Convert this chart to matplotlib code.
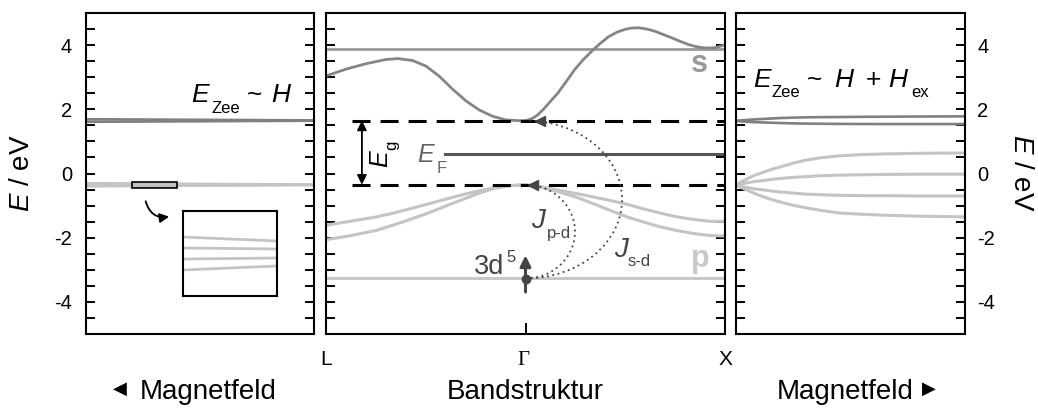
import matplotlib
matplotlib.use("Agg")
import matplotlib.pyplot as plt
from matplotlib.patches import Arc, Rectangle, FancyArrowPatch
from matplotlib.ticker import MultipleLocator

plt.rcParams['font.family'] = ['Liberation Sans', 'DejaVu Sans']
plt.rcParams['mathtext.fontset'] = 'custom'
plt.rcParams['mathtext.rm'] = 'Liberation Sans'
plt.rcParams['mathtext.it'] = 'Liberation Sans:italic'
plt.rcParams['axes.unicode_minus'] = False
plt.rcParams['lines.scale_dashes'] = False

# ---------------- DATA ----------------
y_ticks = [-4, -2, 0, 2, 4]
y_tick_labels = ['-4', '-2', '0', '2', '4']
k_labels = ['L', 'Γ', 'X']
k_pos = [0.0, 0.5, 1.0]

# Band structure (middle panel), x: L=0, Gamma=0.5, X=1
s_x = [0.0, 0.05, 0.10, 0.15, 0.18, 0.217, 0.25, 0.283, 0.317, 0.351, 0.384, 0.418,
       0.451, 0.484, 0.50, 0.515, 0.53, 0.545, 0.562, 0.582, 0.603, 0.624, 0.645, 0.666,
       0.687, 0.708, 0.729, 0.749, 0.766, 0.783, 0.804, 0.825, 0.845, 0.866, 0.887,
       0.908, 0.925, 0.942, 0.958, 0.975, 0.99, 1.0]
s_E = [3.04, 3.25, 3.42, 3.55, 3.58, 3.52, 3.35, 3.04, 2.63, 2.26, 1.98, 1.78,
       1.67, 1.645, 1.65, 1.70, 1.82, 2.0, 2.24, 2.52, 2.88, 3.25, 3.55, 3.81,
       4.05, 4.26, 4.40, 4.49, 4.53, 4.54, 4.50, 4.43, 4.33, 4.23, 4.12,
       4.02, 3.96, 3.92, 3.91, 3.92, 3.97, 4.02]
s_flat = 3.87
Eg_levels = [1.65, -0.35]
E_F = 0.62
p_flat = -3.27
p_up_x = [0.0, 0.06, 0.127, 0.17, 0.21, 0.27, 0.336, 0.38, 0.419, 0.455, 0.495, 0.53,
          0.586, 0.65, 0.712, 0.755, 0.795, 0.84, 0.879, 0.92, 0.962, 1.0]
p_up_E = [-1.61, -1.49, -1.35, -1.23, -1.10, -0.90, -0.68, -0.55, -0.45, -0.38, -0.35, -0.39,
          -0.53, -0.68, -0.84, -0.96, -1.10, -1.24, -1.35, -1.43, -1.49, -1.49]
p_lo_x = [0.0, 0.06, 0.127, 0.19, 0.252, 0.295, 0.336, 0.38, 0.419, 0.455, 0.495, 0.53,
          0.586, 0.63, 0.670, 0.71, 0.754, 0.795, 0.837, 0.88, 0.921, 0.96, 1.0]
p_lo_E = [-2.06, -1.94, -1.77, -1.52, -1.25, -1.04, -0.84, -0.63, -0.47, -0.39, -0.35, -0.40,
          -0.58, -0.75, -0.94, -1.14, -1.35, -1.51, -1.66, -1.78, -1.87, -1.93, -1.95]

# Left panel (Magnetfeld, Zeeman splitting)
lz_x = [0.0, 1.0]
lz_dark = [[1.69, 1.655], [1.61, 1.645]]
lz_light = [[-0.30, -0.345], [-0.335, -0.35], [-0.365, -0.355], [-0.40, -0.36]]
inset_x = [0.0, 1.0]
inset_lines = [[0.694, 0.647], [0.565, 0.553], [0.435, 0.447], [0.306, 0.353]]

# Right panel (Zeeman + exchange)
rz_x = [0.0, 0.02, 0.05, 0.08, 0.12, 0.16, 0.2, 0.25, 0.3, 0.37, 0.45, 0.55, 0.65, 0.8, 1.0]
rz_light = [
    [-0.36, -0.27, -0.16, -0.06, 0.04, 0.14, 0.22, 0.32, 0.41, 0.49, 0.55, 0.59, 0.61, 0.63, 0.64],
    [-0.36, -0.33, -0.29, -0.25, -0.22, -0.18, -0.15, -0.12, -0.10, -0.07, -0.05, -0.04, -0.03, -0.02, -0.02],
    [-0.36, -0.40, -0.44, -0.48, -0.51, -0.55, -0.58, -0.61, -0.64, -0.66, -0.68, -0.69, -0.69, -0.70, -0.70],
    [-0.36, -0.43, -0.52, -0.62, -0.73, -0.82, -0.90, -0.99, -1.06, -1.15, -1.23, -1.27, -1.30, -1.33, -1.35],
]
rz_dark = [
    [1.64, 1.655, 1.67, 1.685, 1.70, 1.715, 1.73, 1.74, 1.75, 1.755, 1.76, 1.765, 1.77, 1.775, 1.78],
    [1.64, 1.625, 1.61, 1.60, 1.59, 1.58, 1.57, 1.562, 1.555, 1.55, 1.545, 1.542, 1.54, 1.54, 1.54],
]

# ---------------- FIGURE ----------------
W, H = 1038, 409
fig = plt.figure(figsize=(W / 100, H / 100), dpi=100)


def px_ax(x0, y0, x1, y1):
    return [x0 / W, 1 - y1 / H, (x1 - x0) / W, (y1 - y0) / H]


def T(px, py, s, **kw):
    kw.setdefault('ha', 'left')
    kw.setdefault('va', 'baseline')
    return fig.text(px / W, 1 - py / H, s, **kw)


DARK = '#808080'
LIGHT = '#c4c4c4'

axL = fig.add_axes(px_ax(86, 13, 314, 334))
axM = fig.add_axes(px_ax(326, 13, 725, 334))
axR = fig.add_axes(px_ax(736, 13, 965, 334))

for ax in (axL, axM, axR):
    ax.set_xlim(0, 1)
    ax.set_ylim(-5, 5)
    ax.set_yticks(y_ticks)
    ax.yaxis.set_minor_locator(MultipleLocator(0.5))
    for sp in ax.spines.values():
        sp.set_linewidth(1.5)
    ax.tick_params(axis='y', which='both', direction='in', left=True, right=True,
                   length=6.5, width=1.4, labelsize=14.5)
    ax.tick_params(axis='x', which='both', bottom=False, top=False, labelbottom=False)

axL.set_yticklabels(y_tick_labels)
axL.tick_params(axis='y', labelleft=True, labelright=False, pad=10)
axM.tick_params(axis='y', labelleft=False, labelright=False)
axR.set_yticklabels(y_tick_labels)
axR.tick_params(axis='y', labelleft=False, labelright=True, pad=9)

axM.set_xticks([k_pos[1]])
axM.tick_params(axis='x', which='major', bottom=True, direction='in', length=8,
                width=1.4, labelbottom=False)

# ----- left panel -----
for ys in lz_dark:
    axL.plot(lz_x, ys, color=DARK, lw=1.9, solid_capstyle='butt')
for ys in lz_light:
    axL.plot(lz_x, ys, color=LIGHT, lw=1.8, solid_capstyle='butt')
axL.add_patch(Rectangle((0.202, -0.465), 0.197, 0.186, facecolor='#c0c0c0',
                        edgecolor='black', lw=1.2, zorder=5))
axL.add_patch(FancyArrowPatch((0.259, -0.78), (0.377, -1.33),
                              connectionstyle='arc3,rad=0.5', arrowstyle='-|>',
                              mutation_scale=14, lw=1.3, color='black', zorder=5))
axI = fig.add_axes(px_ax(183, 211, 277, 296))
axI.set_xlim(0, 1)
axI.set_ylim(0, 1)
axI.set_xticks([])
axI.set_yticks([])
for sp in axI.spines.values():
    sp.set_linewidth(1.5)
for ys in inset_lines:
    axI.plot(inset_x, ys, color=LIGHT, lw=2.0, solid_capstyle='butt')

# ----- middle panel -----
axM.axhline(s_flat, color='#9a9a9a', lw=2.0)
axM.plot(s_x, s_E, color='#858585', lw=2.0)
axM.plot(p_up_x, p_up_E, color=LIGHT, lw=2.2)
axM.plot(p_lo_x, p_lo_E, color=LIGHT, lw=2.2)
axM.axhline(p_flat, color='#c8c8c8', lw=2.2)
axM.plot([0.298, 1.0], [E_F, E_F], color='#555555', lw=2.2)
for lev in Eg_levels:
    axM.plot([0.066, 1.0], [lev, lev], color='black', lw=2.2, dashes=(13, 7.2), zorder=4)
axM.annotate('', xy=(0.09, Eg_levels[1]), xytext=(0.09, Eg_levels[0]),
             arrowprops=dict(arrowstyle='<|-|>', color='black', lw=1.3,
                             shrinkA=0, shrinkB=0, mutation_scale=14), zorder=5)
# exchange arcs
for top, hw in ((Eg_levels[1], 0.124), (Eg_levels[0], 0.242)):
    c = (top + p_flat) / 2
    axM.add_patch(Arc((0.5, c), 2 * hw, top - p_flat, theta1=-90, theta2=90,
                      color='#444444', lw=1.3, ls=(0, (1.3, 2.6)), zorder=5))
axM.plot([0.536], [Eg_levels[0]], marker='<', ms=7, color='#444444', zorder=6)
axM.plot([0.52], [Eg_levels[1]], marker='<', ms=7, color='#444444', zorder=6)
axM.annotate('', xy=(0.5, -2.55), xytext=(0.5, -3.69),
             arrowprops=dict(arrowstyle='-|>', color='#444444', lw=2.2,
                             shrinkA=0, shrinkB=0, mutation_scale=16), zorder=6)
axM.plot([0.5], [p_flat - 0.03], marker='o', ms=6, color='#444444', zorder=7)

# ----- right panel -----
for ys in rz_dark:
    axR.plot(rz_x, ys, color=DARK, lw=1.9)
for ys in rz_light:
    axR.plot(rz_x, ys, color=LIGHT, lw=2.2)

# ---------------- TEXT ----------------
# left E_Zee ~ H
T(191, 102, 'E', fontsize=19, style='italic')
T(211, 113, 'Zee', fontsize=12)
T(247, 102, '~', fontsize=19)
T(271, 102, 'H', fontsize=19, style='italic')
# right E_Zee ~ H + H_ex
T(753, 87, 'E', fontsize=19, style='italic')
T(772, 97, 'Zee', fontsize=12)
T(807, 87, '~', fontsize=19)
T(834, 87, 'H', fontsize=19, style='italic')
T(866, 87, '+', fontsize=19)
T(888, 87, 'H', fontsize=19, style='italic')
T(911, 97, 'ex', fontsize=12)
# E_F
T(417, 162, 'E', fontsize=18, style='italic', color='#666666')
T(437, 173, 'F', fontsize=12, color='#666666')
# E_g (rotated)
T(387, 167, 'E', fontsize=18, style='italic', rotation=90, rotation_mode='anchor')
T(396, 150, 'g', fontsize=12, rotation=90, rotation_mode='anchor')
# J labels
T(531, 228, 'J', fontsize=20, style='italic', color='#444444')
T(547, 238, 'p-d', fontsize=12, color='#444444')
T(614, 257, 'J', fontsize=20, style='italic', color='#444444')
T(628, 266, 's-d', fontsize=12, color='#444444')
# 3d^5
T(474, 274, '3d', fontsize=19.5, color='#444444')
T(506, 262, '5', fontsize=12, color='#444444')
# band labels
T(691, 72, 's', fontsize=22, fontweight='bold', color='#999999')
T(691, 267, 'p', fontsize=22, fontweight='bold', color='#c8c8c8')
# k labels
T(326, 365, k_labels[0], fontsize=15, ha='center')
T(523, 365, k_labels[1], fontsize=15, ha='center', family='Liberation Serif')
T(725, 365, k_labels[2], fontsize=15, ha='center')
# y labels
T(22, 173, r'$E$ / eV', fontsize=20, rotation=90, ha='center', va='center')
T(1021, 173, r'$E$ / eV', fontsize=20, rotation=270, ha='center', va='center')
# bottom labels
T(120, 389, '◀', fontsize=13, ha='center', va='center', family=['DejaVu Sans'])
T(208, 399, 'Magnetfeld', fontsize=20, ha='center')
T(525, 399, 'Bandstruktur', fontsize=20, ha='center')
T(845, 399, 'Magnetfeld', fontsize=20, ha='center')
T(929, 389, '▶', fontsize=13, ha='center', va='center', family=['DejaVu Sans'])

fig.savefig('out.png', dpi=100)
